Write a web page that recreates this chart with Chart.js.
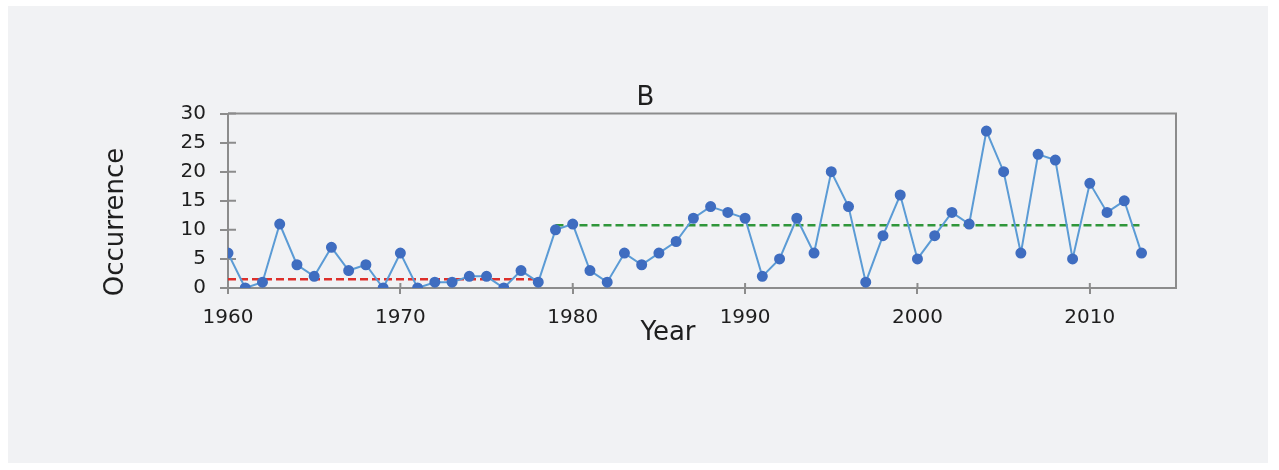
<!DOCTYPE html>
<html>
<head>
<meta charset="utf-8">
<script src="https://cdn.jsdelivr.net/npm/chart.js@4.4.1/dist/chart.umd.min.js"></script>
<style>
  html, body { margin: 0; padding: 0; background: #ffffff; }
  #panel { position: absolute; left: 8px; top: 6px; width: 1260px; height: 457px; background: #f1f2f4; }
  #wrap { position: absolute; left: 0; top: 0; width: 1279px; height: 470px; }
</style>
</head>
<body>
<div id="panel"></div>
<div id="wrap"><canvas id="chart" width="1279" height="470"></canvas></div>
<script>
// Yearly occurrence, 1960-2013
const years = [
  1960, 1961, 1962, 1963, 1964, 1965, 1966, 1967, 1968, 1969,
  1970, 1971, 1972, 1973, 1974, 1975, 1976, 1977, 1978, 1979,
  1980, 1981, 1982, 1983, 1984, 1985, 1986, 1987, 1988, 1989,
  1990, 1991, 1992, 1993, 1994, 1995, 1996, 1997, 1998, 1999,
  2000, 2001, 2002, 2003, 2004, 2005, 2006, 2007, 2008, 2009,
  2010, 2011, 2012, 2013
];
const occurrence = [
  6, 0, 1, 11, 4, 2, 7, 3, 4, 0,
  6, 0, 1, 1, 2, 2, 0, 3, 1, 10,
  11, 3, 1, 6, 4, 6, 8, 12, 14, 13,
  12, 2, 5, 12, 6, 20, 14, 1, 9, 16,
  5, 9, 13, 11, 27, 20, 6, 23, 22, 5,
  18, 13, 15, 6
];

// Period means (dashed lines)
const earlyYears = [1960, 1978];
const earlyMean = [1.5, 1.5];
const lateYears = [1979, 2013];
const lateMean = [10.8, 10.8];

const yTicks = [0, 5, 10, 15, 20, 25, 30];
const xTicks = [1960, 1970, 1980, 1990, 2000, 2010];

const axisGray = '#8c8c8c';
const textColor = '#1e1e1e';
const fontFamily = "'DejaVu Sans', sans-serif";

const toPoints = (xs, ys) => xs.map((x, i) => ({ x: x, y: ys[i] }));

// Box border, inward tick halves and axis titles
const framePlugin = {
  id: 'frame',
  beforeDatasetsDraw(chart) {
    const { ctx, chartArea: a, scales } = chart;
    ctx.save();
    ctx.strokeStyle = axisGray;
    ctx.lineWidth = 2;
    ctx.beginPath();
    ctx.moveTo(a.left, a.top);
    ctx.lineTo(a.right, a.top);
    ctx.lineTo(a.right, a.bottom);
    ctx.stroke();
    ctx.beginPath();
    yTicks.forEach(v => {
      const py = scales.y.getPixelForValue(v);
      ctx.moveTo(a.left, py);
      ctx.lineTo(a.left + 8, py);
    });
    xTicks.forEach(v => {
      const px = scales.x.getPixelForValue(v);
      ctx.moveTo(px, a.bottom);
      ctx.lineTo(px, a.bottom - 5);
    });
    ctx.stroke();
    ctx.restore();
  },
  afterDraw(chart) {
    const { ctx, chartArea: a } = chart;
    ctx.save();
    ctx.fillStyle = textColor;
    ctx.font = '26px ' + fontFamily;
    ctx.textAlign = 'center';
    ctx.textBaseline = 'middle';
    ctx.fillText('Year', a.left + 440, a.bottom + 45);
    ctx.translate(a.left - 112, a.bottom - 66);
    ctx.rotate(-Math.PI / 2);
    ctx.fillText('Occurrence', 0, 0);
    ctx.restore();
  }
};

document.addEventListener('DOMContentLoaded', function() {
  const ctx = document.getElementById('chart').getContext('2d');
  new Chart(ctx, {
    type: 'line',
    data: {
      datasets: [{
        label: 'Occurrence',
        data: toPoints(years, occurrence),
        borderColor: '#5b9bd5',
        backgroundColor: '#3f6dc0',
        pointBackgroundColor: '#3f6dc0',
        pointBorderColor: '#3f6dc0',
        pointRadius: 4.5,
        borderWidth: 2,
        order: 1
      }, {
        label: '1960-1978 mean',
        data: toPoints(earlyYears, earlyMean),
        borderColor: '#dd2f2a',
        borderDash: [8, 4],
        borderWidth: 2.5,
        pointRadius: 0,
        order: 2
      }, {
        label: '1979-2013 mean',
        data: toPoints(lateYears, lateMean),
        borderColor: '#2f963a',
        borderDash: [8, 4],
        borderWidth: 2.5,
        pointRadius: 0,
        order: 2
      }]
    },
    options: {
      responsive: false,
      animation: false,
      devicePixelRatio: 1,
      layout: { padding: { left: 115, right: 103, top: 0, bottom: 122 } },
      plugins: {
        legend: { display: false },
        tooltip: { enabled: false },
        title: {
          display: true,
          text: 'B',
          color: textColor,
          font: { family: fontFamily, size: 26, weight: 'normal' },
          padding: { top: 82.4, bottom: 0 }
        }
      },
      scales: {
        x: {
          type: 'linear',
          min: 1960,
          max: 2015,
          afterFit: s => { s.height = 60; },
          border: { color: axisGray, width: 2 },
          grid: { drawOnChartArea: false, tickLength: 6, color: axisGray, lineWidth: 2 },
          ticks: {
            stepSize: 10,
            includeBounds: false,
            padding: 12,
            color: textColor,
            maxRotation: 0,
            font: { family: fontFamily, size: 20 },
            callback: v => String(v)
          }
        },
        y: {
          min: 0,
          max: 30,
          afterFit: s => { s.width = 113; },
          border: { color: axisGray, width: 2 },
          grid: { drawOnChartArea: false, tickLength: 8, color: axisGray, lineWidth: 2 },
          ticks: {
            stepSize: 5,
            padding: 14,
            color: textColor,
            font: { family: fontFamily, size: 20 }
          }
        }
      }
    },
    plugins: [framePlugin]
  });
});
</script>
</body>
</html>
